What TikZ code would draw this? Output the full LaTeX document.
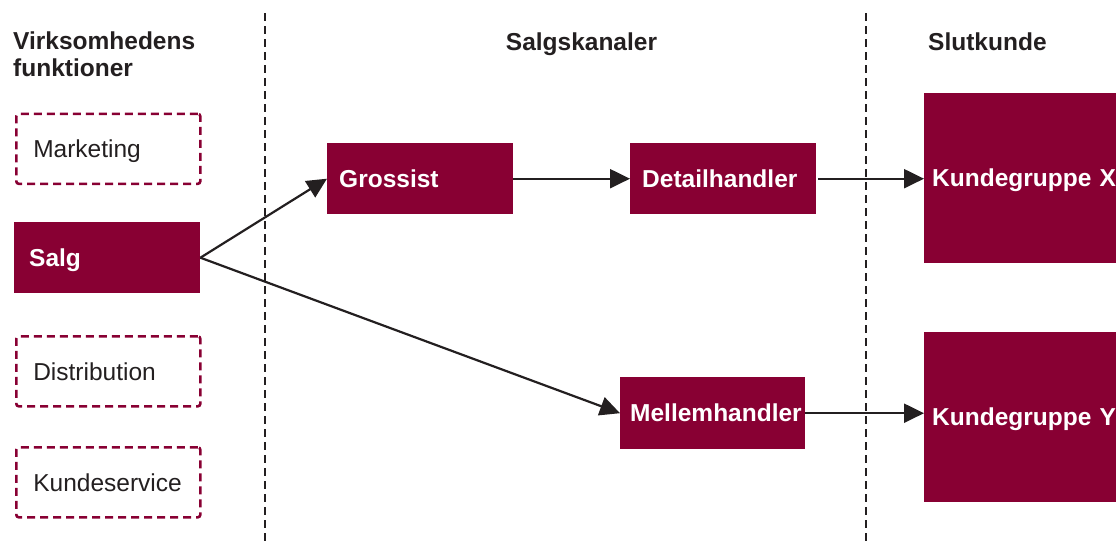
\documentclass[tikz,border=0pt]{standalone}
\usepackage{fontspec}
\setmainfont{Liberation Sans}
\usetikzlibrary{arrows.meta}
\definecolor{wine}{HTML}{880033}
\definecolor{ink}{HTML}{231F20}

\begin{document}
\begin{tikzpicture}[x=1pt,y=-1pt,
  every node/.style={font=\fontsize{24.5}{27.5}\selectfont, text=ink},
  heading/.style={font=\fontsize{24.5}{27.5}\selectfont\bfseries, inner sep=0pt},
  % box labels are centred on their capital letters
  capcentre/.style={text height=17.5pt, text depth=0pt},
  solidbox/.style={fill=wine, text=white, font=\fontsize{24.5}{27.5}\selectfont\bfseries,
    anchor=north west, inner ysep=0pt, align=left, capcentre},
  dashbox/.style={draw=wine, line width=2.6pt, dash pattern=on 8pt off 5pt,
    rounded corners=2.5pt, anchor=north west, inner ysep=0pt, align=left,
    inner xsep=17pt, text width=150pt, minimum height=70pt, capcentre},
  divider/.style={ink, line width=2.4pt, dash pattern=on 8pt off 5pt},
  flow/.style={ink, line width=2.2pt, -{Triangle[length=20pt,width=19pt]}}
]
\useasboundingbox (0,0) rectangle (1116,541);

% column dividers
\coordinate (d1top) at (265,13);
\coordinate (d1bot) at (265,541);
\coordinate (d2top) at (866,13);
\coordinate (d2bot) at (866,541);
\draw[divider] (d1top) -- (d1bot);
\draw[divider] (d2top) -- (d2bot);

% column headings
\node[heading, anchor=north west, align=left] (h1) at (13,31.5) {Virksomhedens\\funktioner};
\node[heading, anchor=base] (h2) at (581.5,50.7) {Salgskanaler};
\node[heading, anchor=base west] (h3) at (928,50.7) {Slutkunde};

% company functions
\node[dashbox] (marketing) at (15,112.5) {Marketing};
\node[solidbox, inner xsep=15pt, text width=156pt, minimum height=71pt] (salg) at (14,222) {Salg};
\node[dashbox] (distribution) at (15,335) {Distribution};
\node[dashbox] (kundeservice) at (15,446) {Kundeservice};

% sales channels
\node[solidbox, inner xsep=12pt, text width=162pt, minimum height=71pt] (grossist) at (327,143) {Grossist};
\node[solidbox, inner xsep=12pt, text width=162pt, minimum height=71pt] (detail) at (630,143) {Detailhandler};
\node[solidbox, inner xsep=10pt, text width=165pt, minimum height=72pt] (mellem) at (620,377) {Mellemhandler};

% end customers
\node[solidbox, inner xsep=8pt, text width=176pt, minimum height=170pt] (kx) at (924,93) {Kundegruppe~X};
\node[solidbox, inner xsep=8pt, text width=176pt, minimum height=170pt] (ky) at (924,332) {Kundegruppe~Y};

% flows
\draw[flow] (salg.east) -- (grossist.west);
\draw[flow] (salg.east) -- (mellem.west);
\draw[flow] (grossist.east) -- (detail.west);
\draw[flow] ([xshift=2pt]detail.east) -- (kx.west |- detail.east);
\draw[flow] (mellem.east) -- (ky.west |- mellem.east);
\end{tikzpicture}
\end{document}
